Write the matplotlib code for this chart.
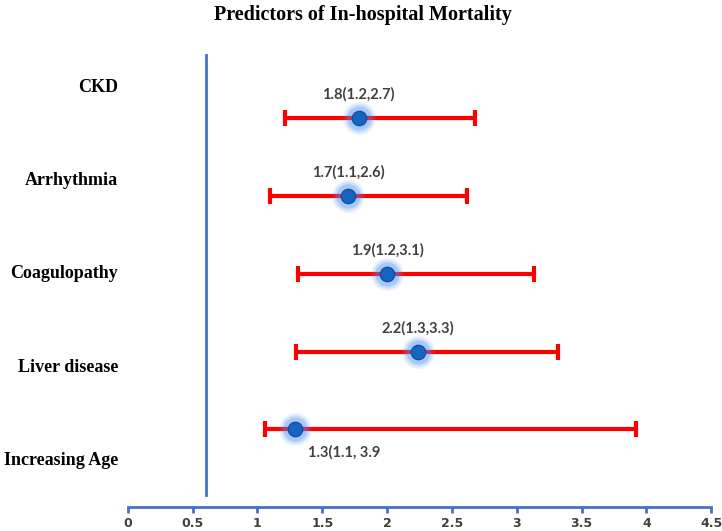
import numpy as np
import matplotlib.pyplot as plt

# data
categories = ['Increasing Age', 'Liver disease', 'Coagulopathy', 'Arrhythmia', 'CKD']
estimates = [1.29, 2.24, 2.0, 1.7, 1.78]
lower = [1.06, 1.3, 1.31, 1.1, 1.21]
upper = [3.92, 3.32, 3.13, 2.62, 2.68]
point_labels = ['1.3(1.1, 3.9', '2.2(1.3,3.3)', '1.9(1.2,3.1)', '1.7(1.1,2.6)', '1.8(1.2,2.7)']
ref_line = 0.6
xticks = [0, 0.5, 1, 1.5, 2, 2.5, 3, 3.5, 4, 4.5]
xticklabels = ['0', '0.5', '1', '1.5', '2', '2.5', '3', '3.5', '4', '4.5']

axis_blue = '#4472C4'

fig = plt.figure(figsize=(7.22, 5.31), dpi=100)
ax = fig.add_axes([0.177, 0.045, 0.808, 0.879])

ypos = np.arange(1, len(categories) + 1)
est = np.array(estimates)
lo = np.array(lower)
hi = np.array(upper)

# confidence intervals
ax.errorbar(est, ypos, xerr=[est - lo, hi - est], fmt='none', ecolor='#FF0000',
            elinewidth=3, capsize=6, capthick=3, zorder=2)

# glow around the points
for s, a in [(560, 0.12), (420, 0.18), (300, 0.28)]:
    ax.scatter(est, ypos, s=s, color='#4D8EF0', alpha=a, linewidths=0, zorder=3)
ax.scatter(est, ypos, s=110, color='#1565C0', edgecolors='#0D47A1', linewidths=0.8, zorder=4)

# value labels
for i, (x, y, txt) in enumerate(zip(est, ypos, point_labels)):
    if i == 0:
        ax.text(x + 0.38, y - 0.3, txt, ha='center', va='center', fontsize=10.5,
                fontweight='bold', color='#404040', family='Lato')
    else:
        ax.text(x, y + 0.3, txt, ha='center', va='center', fontsize=10.5,
                fontweight='bold', color='#404040', family='Lato')

# vertical reference line
ax.plot([ref_line, ref_line], [0.15, 5.81], color=axis_blue, lw=2, zorder=1)

# category labels, placed like text boxes on the left
label_y = [0.6, 1.8, 3.0, 4.2, 5.4]
for cat, y in zip(categories, label_y):
    ax.text(-0.017, y, cat, ha='right', va='center', fontsize=13, fontweight='bold',
            family='Liberation Serif', color='black', transform=ax.get_yaxis_transform())

ax.set_xlim(0, 4.5)
ax.set_ylim(0, 6.0)
ax.set_xticks(xticks)
ax.set_xticklabels(xticklabels, fontsize=9, color='#404040', fontweight='bold',
                   family=['Liberation Sans Narrow', 'DejaVu Sans'])
ax.set_yticks([])
for side in ['top', 'right', 'left']:
    ax.spines[side].set_visible(False)
ax.spines['bottom'].set_color(axis_blue)
ax.spines['bottom'].set_linewidth(2)
ax.tick_params(axis='x', colors=axis_blue, length=4, width=2, pad=3, labelcolor='#404040')

fig.text(0.503, 0.972, 'Predictors of In-hospital Mortality', ha='center', va='center',
         fontsize=14.5, fontweight='bold', family='Liberation Serif')

fig.savefig('out.png', dpi=100)
